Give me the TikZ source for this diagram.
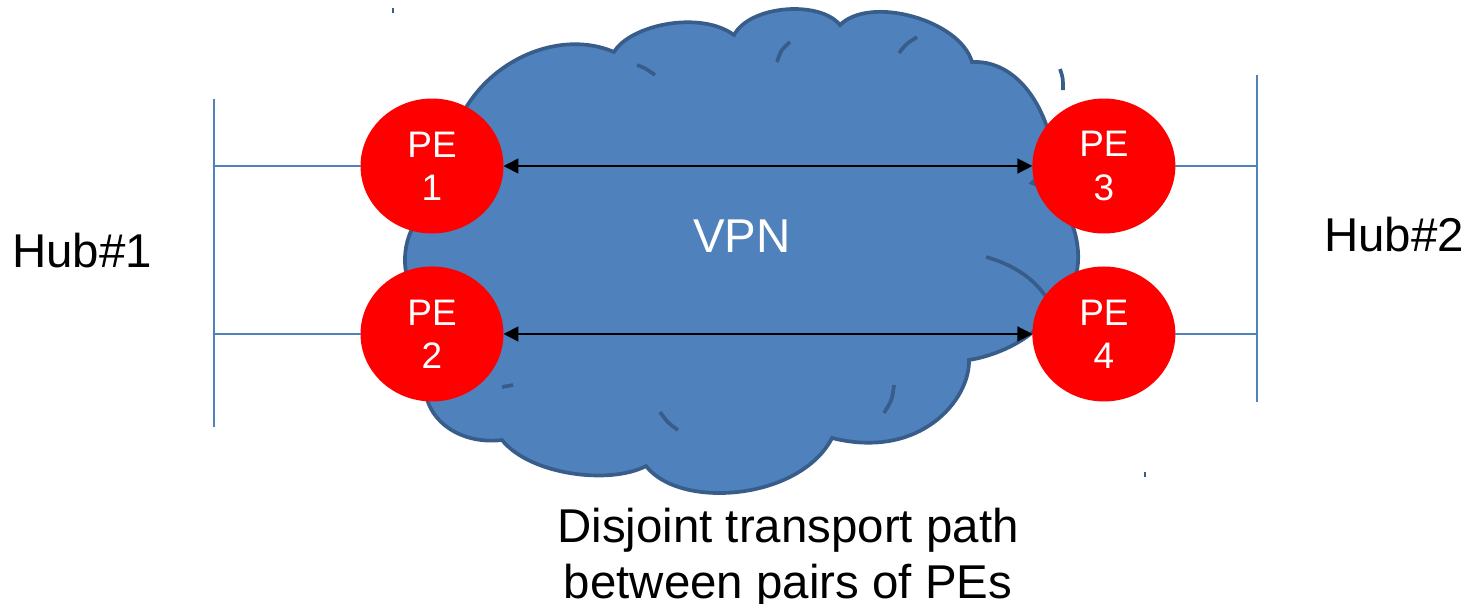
\documentclass[tikz,border=0pt]{standalone}
\usepackage{fontspec}
\setmainfont{Liberation Sans}
\usetikzlibrary{shapes.geometric,positioning,arrows.meta}
\definecolor{cloudfill}{HTML}{4F81BD}
\definecolor{cloudline}{HTML}{385D8A}
\definecolor{hubblue}{HTML}{4F81BD}
\tikzset{
  penode/.style    = {shape=ellipse, fill=red, draw=none,
                      minimum width=2.86cm, minimum height=2.7cm,
                      inner sep=0pt, outer sep=0pt,
                      align=center, text=white,
                      font=\fontsize{21}{24.5}\selectfont},
  biglabel/.style  = {font=\fontsize{27}{32}\selectfont},
  hubline/.style   = {draw=hubblue, line width=1pt},
  cloudedge/.style = {draw=cloudline, line width=2.1pt},
  transport/.style = {{Triangle[length=8.5pt,width=8.5pt]}-{Triangle[length=8.5pt,width=8.5pt]},
                      line width=0.85pt, black}
}
\begin{document}
\begin{tikzpicture}[x=0.02cm, y=-0.02cm]
    \useasboundingbox (0,0) rectangle (1466,603);

    % the cloud
    \path[cloudedge, fill=cloudfill] (425,300)
        .. controls (395,290) and (395,210) .. (450,200)
        .. controls (430,90) and (540,20) .. (614,52)
        .. controls (630,25) and (700,10) .. (734,35)
        .. controls (750,5) and (820,0) .. (840,25)
        .. controls (870,-5) and (960,20) .. (972,62)
        .. controls (1010,60) and (1045,95) .. (1055,160)
        -- (1032,183)
        .. controls (1085,200) and (1092,290) .. (1055,300)
        .. controls (1045,335) and (1000,355) .. (969,360)
        .. controls (970,400) and (920,460) .. (832,438)
        .. controls (800,500) and (680,510) .. (646,466)
        .. controls (610,485) and (530,475) .. (502,440)
        .. controls (460,445) and (425,420) .. (425,385)
        -- cycle;
    \draw[cloudedge] (637,65) .. controls (645,68) .. (655,75);
    \draw[cloudedge] (777,62) .. controls (781,50) .. (790,42);
    \draw[cloudedge] (899,53) .. controls (906,44) .. (917,37);
    \draw[cloudedge] (1060,69) .. controls (1063,78) .. (1063,90);
    \draw[cloudedge] (986,257) .. controls (1015,265) and (1035,280) .. (1046,297);
    \draw[cloudedge] (502,387) -- (513,385);
    \draw[cloudedge] (660,412) .. controls (668,423) .. (678,430);
    \draw[cloudedge] (894,385) .. controls (892,400) .. (884,413);
    \draw[draw=cloudline, line width=0.6pt] (393,8) -- (393,13);
    \draw[draw=cloudline, line width=0.6pt] (1145,472) -- (1145,477);

    % provider edges
    \node[penode] (pe1) at (432,166) {PE\\1};
    \node[penode, below=0.66cm of pe1] (pe2) {PE\\2};
    \node[penode, right=10.58cm of pe1] (pe3) {PE\\3};
    \node[penode, right=10.58cm of pe2] (pe4) {PE\\4};

    \node[biglabel, text=white] (vpn) at (742,236) {VPN};
    \node[biglabel] (hub1) at (82,251) {Hub\#1};
    \node[biglabel] (hub2) at (1394,235) {Hub\#2};
    \node[biglabel, align=center, anchor=north, inner sep=0pt] (caption)
        at (788,508) {Disjoint transport path\\between pairs of PEs};

    % hubs
    \coordinate (hubL1) at (214,99);
    \coordinate (hubL2) at (214,427);
    \coordinate (hubR1) at (1257,75);
    \coordinate (hubR2) at (1257,402);
    \draw[hubline] (hubL1) -- (hubL2);
    \draw[hubline] (hubR1) -- (hubR2);
    \draw[hubline] (pe1.west) -- (pe1.west -| hubL1);
    \draw[hubline] (pe2.west) -- (pe2.west -| hubL1);
    \draw[hubline] (pe3.east) -- (pe3.east -| hubR1);
    \draw[hubline] (pe4.east) -- (pe4.east -| hubR1);

    % disjoint paths
    \draw[transport] (pe1.east) -- (pe3.west);
    \draw[transport] (pe2.east) -- (pe4.west);
\end{tikzpicture}
\end{document}
